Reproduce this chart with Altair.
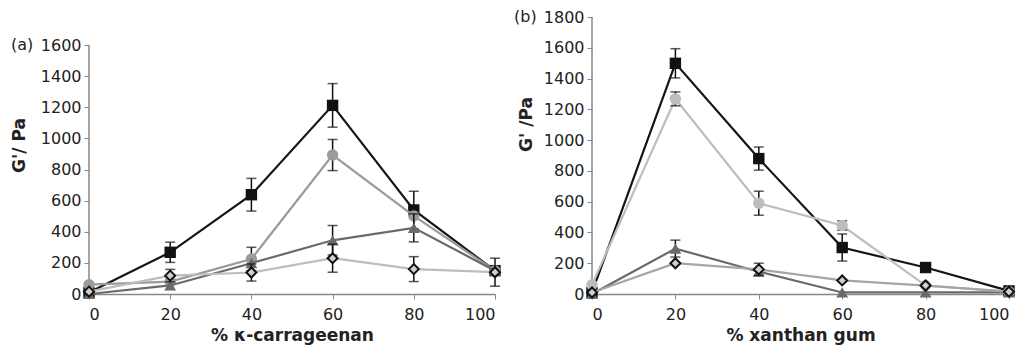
import altair as alt
import pandas as pd

x_vals = [0, 20, 40, 60, 80, 100]

# Panel (a): % k-carrageenan
a_square = [10, 268, 638, 1212, 540, 150]
a_square_err = [0, 65, 105, 140, 120, 0]
a_circle = [60, 80, 225, 893, 502, 150]
a_circle_err = [0, 0, 75, 100, 0, 0]
a_triangle = [0, 55, 198, 345, 425, 150]
a_triangle_err = [0, 0, 0, 95, 90, 0]
a_diamond = [15, 118, 138, 230, 160, 140]
a_diamond_err = [0, 40, 55, 90, 80, 90]

# Panel (b): % xanthan gum
b_square = [10, 1499, 880, 302, 172, 20]
b_square_err = [0, 95, 75, 88, 30, 0]
b_circle = [60, 1268, 590, 445, 55, 15]
b_circle_err = [0, 45, 78, 30, 0, 0]
b_triangle = [0, 295, 145, 10, 10, 10]
b_triangle_err = [0, 55, 0, 0, 0, 0]
b_diamond = [10, 200, 160, 88, 55, 15]
b_diamond_err = [0, 0, 40, 0, 0, 0]

FONT = "DejaVu Sans"
H = 277


def series_layers(vals, errs, enc_x, y_of, line_color, shape, fill, stroke, size, sw):
    df = pd.DataFrame({"x": x_vals, "y": vals, "e": errs})
    df["lo"] = df["y"] - df["e"]
    df["hi"] = df["y"] + df["e"]
    base = alt.Chart(df)
    line = base.mark_line(color=line_color, strokeWidth=2.2).encode(x=enc_x(), y=y_of("y"))
    eb = base.transform_filter("datum.e > 0")
    rule = eb.mark_rule(color="#111", strokeWidth=1.5).encode(
        x=enc_x(), y=y_of("lo"), y2="hi:Q")
    cap_lo = eb.mark_tick(color="#111", thickness=1.5, size=10, orient="horizontal").encode(
        x=enc_x(), y=y_of("lo"))
    cap_hi = eb.mark_tick(color="#111", thickness=1.5, size=10, orient="horizontal").encode(
        x=enc_x(), y=y_of("hi"))
    pts = base.mark_point(shape=shape, filled=True, fill=fill, stroke=stroke,
                          strokeWidth=sw, size=size, opacity=1).encode(x=enc_x(), y=y_of("y"))
    return [line, rule, cap_lo, cap_hi, pts]


def panel(sq, sqe, ci, cie, tr, tre, di, die, ymax_axis, ymax_dom, width,
          xtitle, ytitle, tag, title_x, title_y, circle_col, diamond_line):
    xscale = alt.Scale(domain=[0, 100], nice=False, zero=False)
    yscale = alt.Scale(domain=[0, ymax_dom], nice=False)
    xaxis = alt.Axis(values=x_vals, title=xtitle, grid=False, format="d",
                     labelOverlap=False, domainColor="#888",
                     domainWidth=1.5, tickColor="#888", tickSize=5,
                     labelPadding=7, titlePadding=5)
    yaxis = alt.Axis(values=list(range(0, ymax_axis + 1, 200)), title=ytitle,
                     grid=False, domain=False, format="d", labelOverlap=False,
                     tickColor="#888", tickSize=5, labelPadding=3,
                     titleX=title_x, titleY=title_y, titleAngle=-90,
                     titleAlign="center", titleBaseline="middle")

    def enc_x():
        return alt.X("x:Q", scale=xscale, axis=xaxis)

    def y_of(f):
        return alt.Y(f + ":Q", scale=yscale, axis=yaxis)

    axes_base = alt.Chart(pd.DataFrame({"x": [0], "y": [0], "y2": [ymax_axis]}))
    axis_holder = axes_base.mark_rule(color="#888", strokeWidth=1.5).encode(
        x=enc_x(), y=y_of("y"), y2="y2:Q")
    tag_df = pd.DataFrame({"label": [tag], "y": [ymax_axis]})
    tag_txt = alt.Chart(tag_df).mark_text(
        font=FONT, fontSize=16, align="left", baseline="middle", color="#222"
    ).encode(text="label:N", x=alt.value(-78), y=y_of("y"))
    layers = [axis_holder]
    layers += series_layers(sq, sqe, enc_x, y_of, "#151515", "square", "#111", "#111", 130, 0)
    layers += series_layers(ci, cie, enc_x, y_of, circle_col, "circle", circle_col, circle_col, 130, 0)
    layers += series_layers(tr, tre, enc_x, y_of, "#6a6a6a", "triangle-up", "#6a6a6a", "#6a6a6a", 140, 0)
    layers += series_layers(di, die, enc_x, y_of, diamond_line, "diamond", "#cfcfcf", "#111", 100, 2)
    layers.append(tag_txt)
    return alt.layer(*layers).properties(width=width, height=H)


pa = panel(a_square, a_square_err, a_circle, a_circle_err, a_triangle, a_triangle_err,
           a_diamond, a_diamond_err, 1600, 1600 * 277 / 249, 406,
           "% κ-carrageenan", "G'/ Pa", "(a)", -70, 128, "#9a9a9a", "#bdbdbd")
pb = panel(b_square, b_square_err, b_circle, b_circle_err, b_triangle, b_triangle_err,
           b_diamond, b_diamond_err, 1800, 1800, 417,
           "% xanthan gum", "G' /Pa", "(b)", -66, 107, "#bdbdbd", "#a5a5a5")

chart = alt.hconcat(pa, pb, spacing=10).properties(
    padding={"left": 10, "top": 9, "right": 5, "bottom": 5}
).configure(background="white").configure_view(stroke=None).configure_axis(
    labelFont=FONT, labelFontSize=16, labelColor="#222",
    titleFont=FONT, titleFontSize=17, titleFontWeight="bold", titleColor="#222"
)

chart.save("out.html", embed_options={"renderer": "svg", "actions": False})
